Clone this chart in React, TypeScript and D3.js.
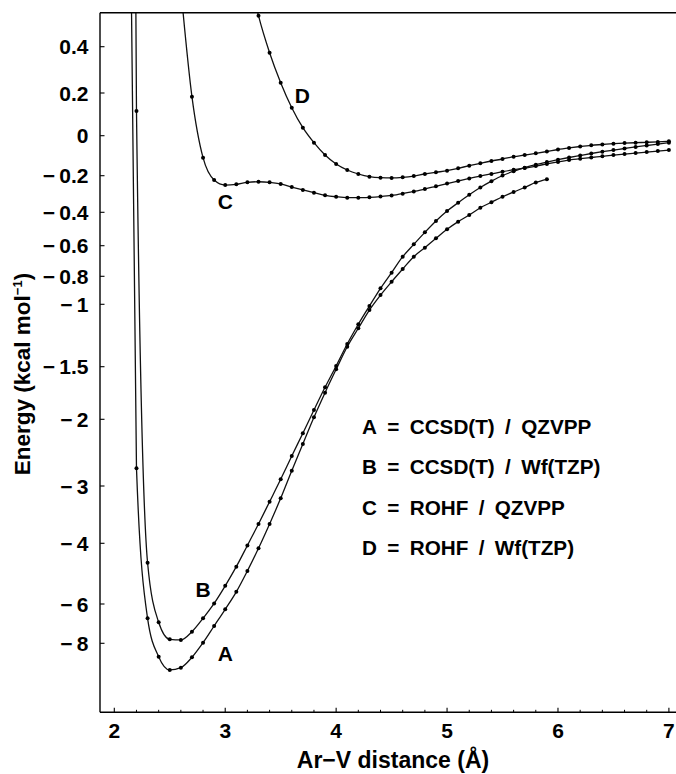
import React, { useRef, useEffect } from "react";
import * as d3 from "d3";

// Ar-V separation grid (Å), 0.1 Å steps shared by all curves
const distance = [
  2.1, 2.2, 2.3, 2.4, 2.5, 2.6, 2.7, 2.8, 2.9,
  3.0, 3.1, 3.2, 3.3, 3.4, 3.5, 3.6, 3.7, 3.8, 3.9,
  4.0, 4.1, 4.2, 4.3, 4.4, 4.5, 4.6, 4.7, 4.8, 4.9,
  5.0, 5.1, 5.2, 5.3, 5.4, 5.5, 5.6, 5.7, 5.8, 5.9,
  6.0, 6.1, 6.2, 6.3, 6.4, 6.5, 6.6, 6.7, 6.8, 6.9, 7.0,
];

// energies in kcal/mol
// A: CCSD(T)/QZVPP, 2.1 .. 5.9
const energyA = [
  3.0, -2.735, -6.73, -9.05, -10.14, -9.91, -9.1, -7.97, -7.12,
  -6.27, -5.6, -4.91, -4.165, -3.663, -3.215, -2.771, -2.37, -1.981, -1.747,
  -1.525, -1.34, -1.192, -1.046, -0.934, -0.839, -0.752, -0.672, -0.613, -0.556,
  -0.502, -0.456, -0.416, -0.375, -0.345, -0.315, -0.289, -0.2645, -0.237, -0.22,
];
// B: CCSD(T)/Wf(TZP), 2.1 .. 7.0
const energyB = [
  8.0, 0.116, -4.64, -6.93, -7.8, -7.83, -7.41, -6.73, -5.98,
  -5.4, -4.77, -4.07, -3.663, -3.274, -2.9, -2.55, -2.21, -1.912, -1.696,
  -1.494, -1.318, -1.16, -1.014, -0.886, -0.776, -0.672, -0.592, -0.52, -0.452,
  -0.393, -0.3475, -0.304, -0.2645, -0.23, -0.199, -0.178, -0.16, -0.145, -0.132,
  -0.12, -0.109, -0.099, -0.089, -0.08, -0.072, -0.064, -0.056, -0.049, -0.042, -0.035,
];
// C: ROHF/QZVPP, 2.6 .. 7.0
const energyC = [
  0.65, 0.183, -0.11, -0.2235,
  -0.251, -0.247, -0.236, -0.233, -0.236, -0.245, -0.262, -0.278, -0.293, -0.307,
  -0.315, -0.32, -0.32, -0.318, -0.314, -0.308, -0.298, -0.286, -0.273, -0.258,
  -0.243, -0.229, -0.215, -0.202, -0.191, -0.18, -0.17, -0.162, -0.152, -0.141,
  -0.131, -0.122, -0.115, -0.109, -0.103, -0.097, -0.092, -0.087, -0.082, -0.077, -0.072,
];
// D: ROHF/Wf(TZP), 3.2 .. 7.0
const energyD = [
  0.75, 0.534, 0.374, 0.2445, 0.131, 0.0375, -0.035, -0.0965,
  -0.1415, -0.1715, -0.1915, -0.2055, -0.211, -0.212, -0.209, -0.202, -0.1915, -0.183,
  -0.175, -0.163, -0.15, -0.138, -0.1265, -0.1165, -0.105, -0.0965, -0.088, -0.079,
  -0.069, -0.061, -0.054, -0.048, -0.044, -0.04, -0.037, -0.035, -0.033, -0.031, -0.028,
];

const curveNames = ["A", "B", "C", "D"];
const curveStart = [2.1, 2.1, 2.6, 3.2];
const curveEnergy = [energyA, energyB, energyC, energyD];
// where the letter tags sit, in data units (distance, energy)
const curveTagAt = [
  [3.0, -8.78],
  [2.8, -5.52],
  [3.0, -0.342],
  [3.695, 0.187],
];

const legendLines = [
  "A = CCSD(T) / QZVPP",
  "B = CCSD(T) / Wf(TZP)",
  "C = ROHF / QZVPP",
  "D = ROHF / Wf(TZP)",
];

const xTicks = [2, 3, 4, 5, 6, 7];
const yTicks = [0.4, 0.2, 0, -0.2, -0.4, -0.6, -0.8, -1, -1.5, -2, -3, -4, -6, -8];

const FONT = "'Liberation Sans', Arial, Helvetica, sans-serif";

const fmt = (v: number) => (v < 0 ? "\u2212\u2009" + String(-v) : String(v));

const App = () => {
  const ref = useRef<SVGSVGElement>(null);

  useEffect(() => {
    document.body.style.margin = "0";
    const svg = d3.select(ref.current);
    svg.selectAll("*").remove();

    const frameLeft = 100;
    const frameRight = 676;
    const frameTop = 12.7;
    const frameBottom = 712.3;

    const x = d3.scaleLinear().domain([2, 7]).range([114.3, 668.9]);
    // the energy axis is warped (compressed towards the deep well), so use a polylinear scale
    const y = d3
      .scaleLinear()
      .domain([0.547, 0.4, 0.2, 0, -0.2, -0.4, -0.6, -0.8, -1, -1.5, -2, -3, -4, -6, -8, -10, -12, -20])
      .range([frameTop, 46.7, 93, 135.7, 175.7, 212.3, 245.7, 276.3, 304.3, 366.7, 419.3, 486, 543.3, 604, 643.3, 668.8, 685.4, frameBottom]);

    svg
      .append("defs")
      .append("clipPath")
      .attr("id", "plotClip")
      .append("rect")
      .attr("x", frameLeft)
      .attr("y", frameTop)
      .attr("width", frameRight - frameLeft)
      .attr("height", frameBottom - frameTop);

    const plot = svg.append("g").attr("clip-path", "url(#plotClip)");

    const line = d3
      .line<[number, number]>()
      .x((d) => x(d[0]))
      .y((d) => y(d[1]))
      .curve(d3.curveMonotoneX);

    curveEnergy.forEach((vals, i) => {
      const i0 = distance.findIndex((d) => Math.abs(d - curveStart[i]) < 1e-6);
      const pts: [number, number][] = vals.map((v, k) => [distance[i0 + k], v]);
      plot
        .append("path")
        .datum(pts)
        .attr("d", line)
        .attr("fill", "none")
        .attr("stroke", "#111")
        .attr("stroke-width", 1.3);
      plot
        .selectAll(`.dot${curveNames[i]}`)
        .data(pts)
        .enter()
        .append("circle")
        .attr("cx", (d) => x(d[0]))
        .attr("cy", (d) => y(d[1]))
        .attr("r", 2)
        .attr("fill", "#000");
    });

    // frame: left, bottom and top edges
    const frame = svg.append("g").attr("stroke", "#000").attr("stroke-width", 1.4);
    frame.append("line").attr("x1", frameLeft).attr("x2", frameLeft).attr("y1", frameTop).attr("y2", frameBottom);
    frame.append("line").attr("x1", frameLeft).attr("x2", frameRight).attr("y1", frameBottom).attr("y2", frameBottom);
    frame.append("line").attr("x1", frameLeft).attr("x2", frameRight).attr("y1", frameTop).attr("y2", frameTop);

    // x ticks (major at integers, minor every 0.2)
    const minorX = d3.range(10, 36).map((k) => k / 5).filter((v) => v % 1 !== 0);
    svg
      .selectAll(".xminor")
      .data(minorX)
      .enter()
      .append("line")
      .attr("x1", (d) => x(d))
      .attr("x2", (d) => x(d))
      .attr("y1", frameBottom)
      .attr("y2", frameBottom - 2.5)
      .attr("stroke", "#000")
      .attr("stroke-width", 1);
    svg
      .selectAll(".xmajor")
      .data(xTicks)
      .enter()
      .append("line")
      .attr("x1", (d) => x(d))
      .attr("x2", (d) => x(d))
      .attr("y1", frameBottom)
      .attr("y2", frameBottom - 4.5)
      .attr("stroke", "#000")
      .attr("stroke-width", 1.1);
    svg
      .selectAll(".xlabel")
      .data(xTicks)
      .enter()
      .append("text")
      .attr("x", (d) => x(d))
      .attr("y", 738)
      .attr("text-anchor", "middle")
      .style("font-family", FONT)
      .style("font-weight", "bold")
      .style("font-size", "21px")
      .text((d) => String(d));

    // y ticks
    svg
      .selectAll(".ymajor")
      .data(yTicks)
      .enter()
      .append("line")
      .attr("x1", frameLeft)
      .attr("x2", frameLeft + 4.5)
      .attr("y1", (d) => y(d))
      .attr("y2", (d) => y(d))
      .attr("stroke", "#000")
      .attr("stroke-width", 1.1);
    svg
      .selectAll(".ylabel")
      .data(yTicks)
      .enter()
      .append("text")
      .attr("x", 88.5)
      .attr("y", (d) => y(d) + 7.5)
      .attr("text-anchor", "end")
      .style("font-family", FONT)
      .style("font-weight", "bold")
      .style("font-size", "21px")
      .text((d) => fmt(d));

    // axis titles
    svg
      .append("text")
      .attr("x", 393)
      .attr("y", 768)
      .attr("text-anchor", "middle")
      .style("font-family", FONT)
      .style("font-weight", "bold")
      .style("font-size", "23px")
      .text("Ar\u2212V distance (\u00C5)");

    const yTitle = svg
      .append("text")
      .attr("transform", "translate(30,374) rotate(-90)")
      .attr("text-anchor", "middle")
      .style("font-family", FONT)
      .style("font-weight", "bold")
      .style("font-size", "22.5px");
    yTitle.append("tspan").text("Energy (kcal mol");
    yTitle.append("tspan").attr("dy", -8).style("font-size", "13px").text("\u22121");
    yTitle.append("tspan").attr("dy", 8).text(")");

    // curve tags
    svg
      .selectAll(".ctag")
      .data(curveNames)
      .enter()
      .append("text")
      .attr("x", (d, i) => x(curveTagAt[i][0]))
      .attr("y", (d, i) => y(curveTagAt[i][1]) + 7.5)
      .attr("text-anchor", "middle")
      .style("font-family", FONT)
      .style("font-weight", "bold")
      .style("font-size", "21px")
      .text((d) => d);

    // legend
    svg
      .selectAll(".legend")
      .data(legendLines)
      .enter()
      .append("text")
      .attr("x", 362)
      .attr("y", (d, i) => 434 + i * 40.3)
      .style("font-family", FONT)
      .style("font-weight", "bold")
      .style("font-size", "20.7px")
      .style("white-space", "pre")
      .text((d) => d.replace(/ = /, "\u2002=\u2002").replace(/ \/ /, "\u2002/\u2002"));
  }, []);

  return <svg ref={ref} width={676} height={774} style={{ display: "block" }} />;
};

export default App;
